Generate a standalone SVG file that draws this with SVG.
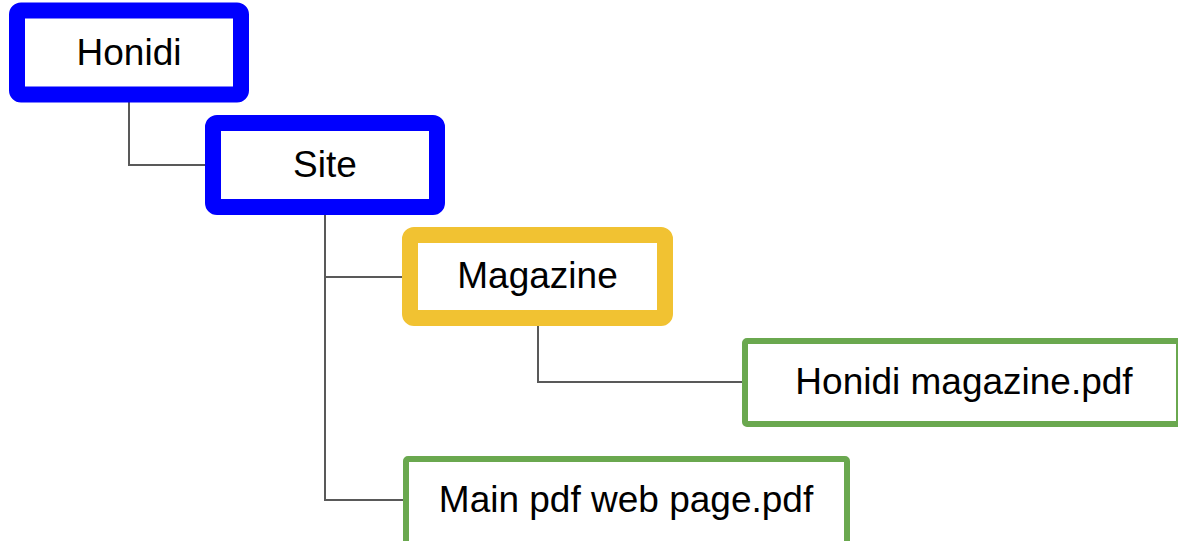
<svg xmlns="http://www.w3.org/2000/svg" width="1178" height="541" viewBox="0 0 1178 541">
<style>
.blue{fill:#fff;stroke:#0000ff;stroke-width:16}
.yellow{fill:#fff;stroke:#f1c232;stroke-width:16}
.green{fill:#fff;stroke:#6aa84f;stroke-width:6}
.lbl{font-family:"Liberation Sans",Arial,sans-serif;font-size:37px;fill:#000;text-anchor:middle}
.conn{fill:none;stroke:#595959;stroke-width:2}
</style>
<rect width="1178" height="541" fill="#fff"/>
<g id="connectors">
<polyline class="conn" points="129,95 129,165 205,165"/>
<polyline class="conn" points="325,207 325,500 403,500"/>
<polyline class="conn" points="325,277 402,277"/>
<polyline class="conn" points="538,319 538,382 742,382"/>
</g>
<g id="honidi">
<rect class="blue" x="17" y="10.5" width="224" height="84" rx="4"/>
<text class="lbl" x="129" y="65">Honidi</text>
</g>
<g id="site">
<rect class="blue" x="213" y="123" width="224" height="84" rx="4"/>
<text class="lbl" x="325" y="177">Site</text>
</g>
<g id="magazine">
<rect class="yellow" x="410" y="235" width="255" height="83" rx="4"/>
<text class="lbl" x="537.5" y="288">Magazine</text>
</g>
<g id="honidi-magazine-pdf">
<rect class="green" x="745" y="341" width="434" height="83" rx="2"/>
<text class="lbl" x="964" y="394">Honidi magazine.pdf</text>
</g>
<g id="main-pdf">
<rect class="green" x="406" y="459" width="441" height="90" rx="2"/>
<text class="lbl" x="626" y="512">Main pdf web page.pdf</text>
</g>
</svg>
